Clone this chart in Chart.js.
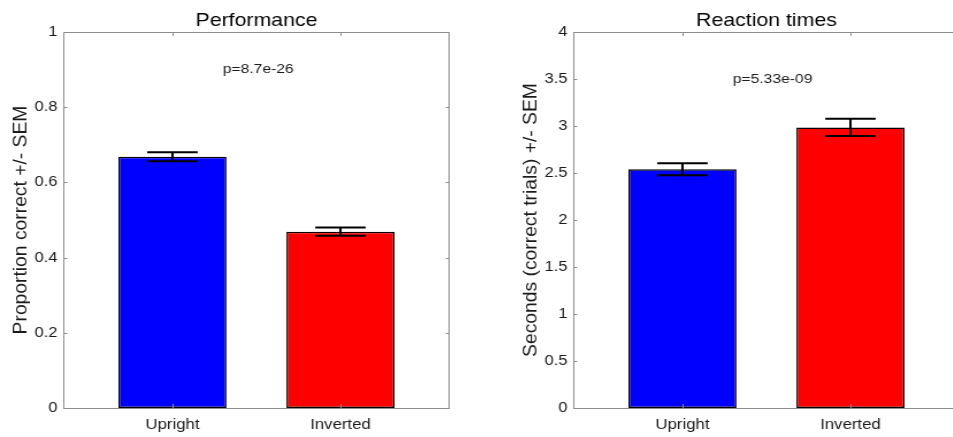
<!DOCTYPE html>
<html>
<head>
<meta charset="utf-8">
<title>Performance and reaction times</title>
<script src="https://cdn.jsdelivr.net/npm/chart.js"></script>
<style>
  body { margin: 0; width: 953px; height: 437px; overflow: hidden; background: white; }
  .panel { position: absolute; top: 0; transform: scaleX(1.15); transform-origin: 0 0; }
  canvas { display: block; }
</style>
</head>
<body>
<div class="panel" style="left:0px"><canvas id="perf" width="408" height="437"></canvas></div>
<div class="panel" style="left:510px"><canvas id="rt" width="408" height="437"></canvas></div>
<script>
// data
const categories = ['Upright', 'Inverted'];
const barColors = ['#0000ff', '#ff0000'];

const perfMean = [0.668, 0.469];
const perfSem = [0.012, 0.011];
const perfP = 'p=8.7e-26';

const rtMean = [2.54, 2.985];
const rtSem = [0.063, 0.092];
const rtP = 'p=5.33e-09';

const STRETCH = 1.15; // the source figure is wider than it is tall
const FONT = '"Liberation Sans", Arial, Helvetica, sans-serif';
const TEXT = '#1a1a1a';
const AXIS = '#8c8c8c';

// box, inward ticks, error bars, titles and p-value text
const frame = {
  id: 'frame',
  afterDatasetsDraw(chart, args, opts) {
    const { ctx, scales: { x, y } } = chart;
    ctx.save();
    ctx.strokeStyle = '#000';
    ctx.lineWidth = 2;
    opts.sem.forEach((s, i) => {
      const m = opts.mean[i];
      const cx = x.getPixelForValue(i + 1);
      const x0 = x.getPixelForValue(i + 1 - opts.cap);
      const x1 = x.getPixelForValue(i + 1 + opts.cap);
      const yt = y.getPixelForValue(m + s);
      const yb = y.getPixelForValue(m - s);
      ctx.beginPath();
      ctx.moveTo(cx, yt); ctx.lineTo(cx, yb);
      ctx.moveTo(x0, yt); ctx.lineTo(x1, yt);
      ctx.moveTo(x0, yb); ctx.lineTo(x1, yb);
      ctx.stroke();
    });
    ctx.restore();
  },
  afterDraw(chart, args, opts) {
    const { ctx, chartArea: a, scales: { x, y } } = chart;
    ctx.save();
    ctx.strokeStyle = AXIS;
    ctx.lineWidth = 1;
    ctx.strokeRect(a.left + 0.5, a.top + 0.5, a.right - a.left - 1, a.bottom - a.top);
    ctx.beginPath();
    y.ticks.forEach(t => {
      const py = Math.round(y.getPixelForValue(t.value)) + 0.5;
      ctx.moveTo(a.left, py); ctx.lineTo(a.left + 3.5, py);
      ctx.moveTo(a.right, py); ctx.lineTo(a.right - 3.5, py);
    });
    x.ticks.forEach(t => {
      const px = Math.round(x.getPixelForValue(t.value)) + 0.5;
      ctx.moveTo(px, a.bottom); ctx.lineTo(px, a.bottom - 4);
      ctx.moveTo(px, a.top); ctx.lineTo(px, a.top + 4);
    });
    ctx.stroke();

    ctx.fillStyle = '#000';
    ctx.font = '18.5px ' + FONT;
    ctx.textAlign = 'center';
    ctx.textBaseline = 'alphabetic';
    ctx.fillText(opts.title, (a.left + a.right) / 2, 26);

    ctx.fillStyle = TEXT;
    ctx.font = '13.6px ' + FONT;
    ctx.textAlign = 'left';
    ctx.textBaseline = 'middle';
    ctx.fillText(opts.note, x.getPixelForValue(opts.noteX), y.getPixelForValue(opts.noteY));

    // y axis title, drawn unstretched
    ctx.save();
    ctx.translate(a.left - 32.5, (a.top + a.bottom) / 2);
    ctx.scale(1 / STRETCH, 1);
    ctx.rotate(-Math.PI / 2);
    ctx.font = '19.3px ' + FONT;
    ctx.textAlign = 'center';
    ctx.textBaseline = 'alphabetic';
    ctx.fillText(opts.yTitle, 0, 0);
    ctx.restore();
    ctx.restore();
  }
};

function makePanel(id, mean, sem, yMax, yStep, yTitle, title, note, noteY) {
  return new Chart(document.getElementById(id), {
    type: 'bar',
    data: {
      datasets: [{
        data: mean.map((m, i) => ({ x: i + 1, y: m })),
        backgroundColor: barColors,
        borderColor: '#000',
        borderWidth: 1.5,
        borderSkipped: false,
        barPercentage: 0.643,
        categoryPercentage: 1
      }]
    },
    options: {
      responsive: false,
      animation: false,
      layout: { padding: { top: 32, right: 17, left: 0, bottom: 0 } },
      plugins: {
        legend: { display: false },
        tooltip: { enabled: false },
        frame: { mean, sem, cap: 0.15, title, note, noteX: 1.3, noteY, yTitle }
      },
      scales: {
        x: {
          type: 'linear',
          min: 0.35,
          max: 2.65,
          offset: false,
          grid: { display: false, drawTicks: false, offset: false },
          border: { display: false },
          afterBuildTicks: s => { s.ticks = categories.map((c, i) => ({ value: i + 1 })); },
          ticks: {
            callback: v => categories[v - 1] ?? '',
            autoSkip: false,
            maxRotation: 0,
            padding: 8,
            color: TEXT,
            font: { family: FONT, size: 14.6 }
          },
          afterFit: s => { s.height = 29; }
        },
        y: {
          min: 0,
          max: yMax,
          grid: { display: false, drawTicks: false },
          border: { display: false },
          ticks: {
            stepSize: yStep,
            padding: 5,
            color: TEXT,
            font: { family: FONT, size: 14.4 },
            callback: v => String(+v.toFixed(2))
          },
          afterFit: s => { s.width = 55; }
        }
      }
    },
    plugins: [frame]
  });
}

makePanel('perf', perfMean, perfSem, 1, 0.2, 'Proportion correct +/- SEM', 'Performance', perfP, 0.9);
makePanel('rt', rtMean, rtSem, 4, 0.5, 'Seconds (correct trials) +/- SEM', 'Reaction times', rtP, 3.5);
</script>
</body>
</html>
